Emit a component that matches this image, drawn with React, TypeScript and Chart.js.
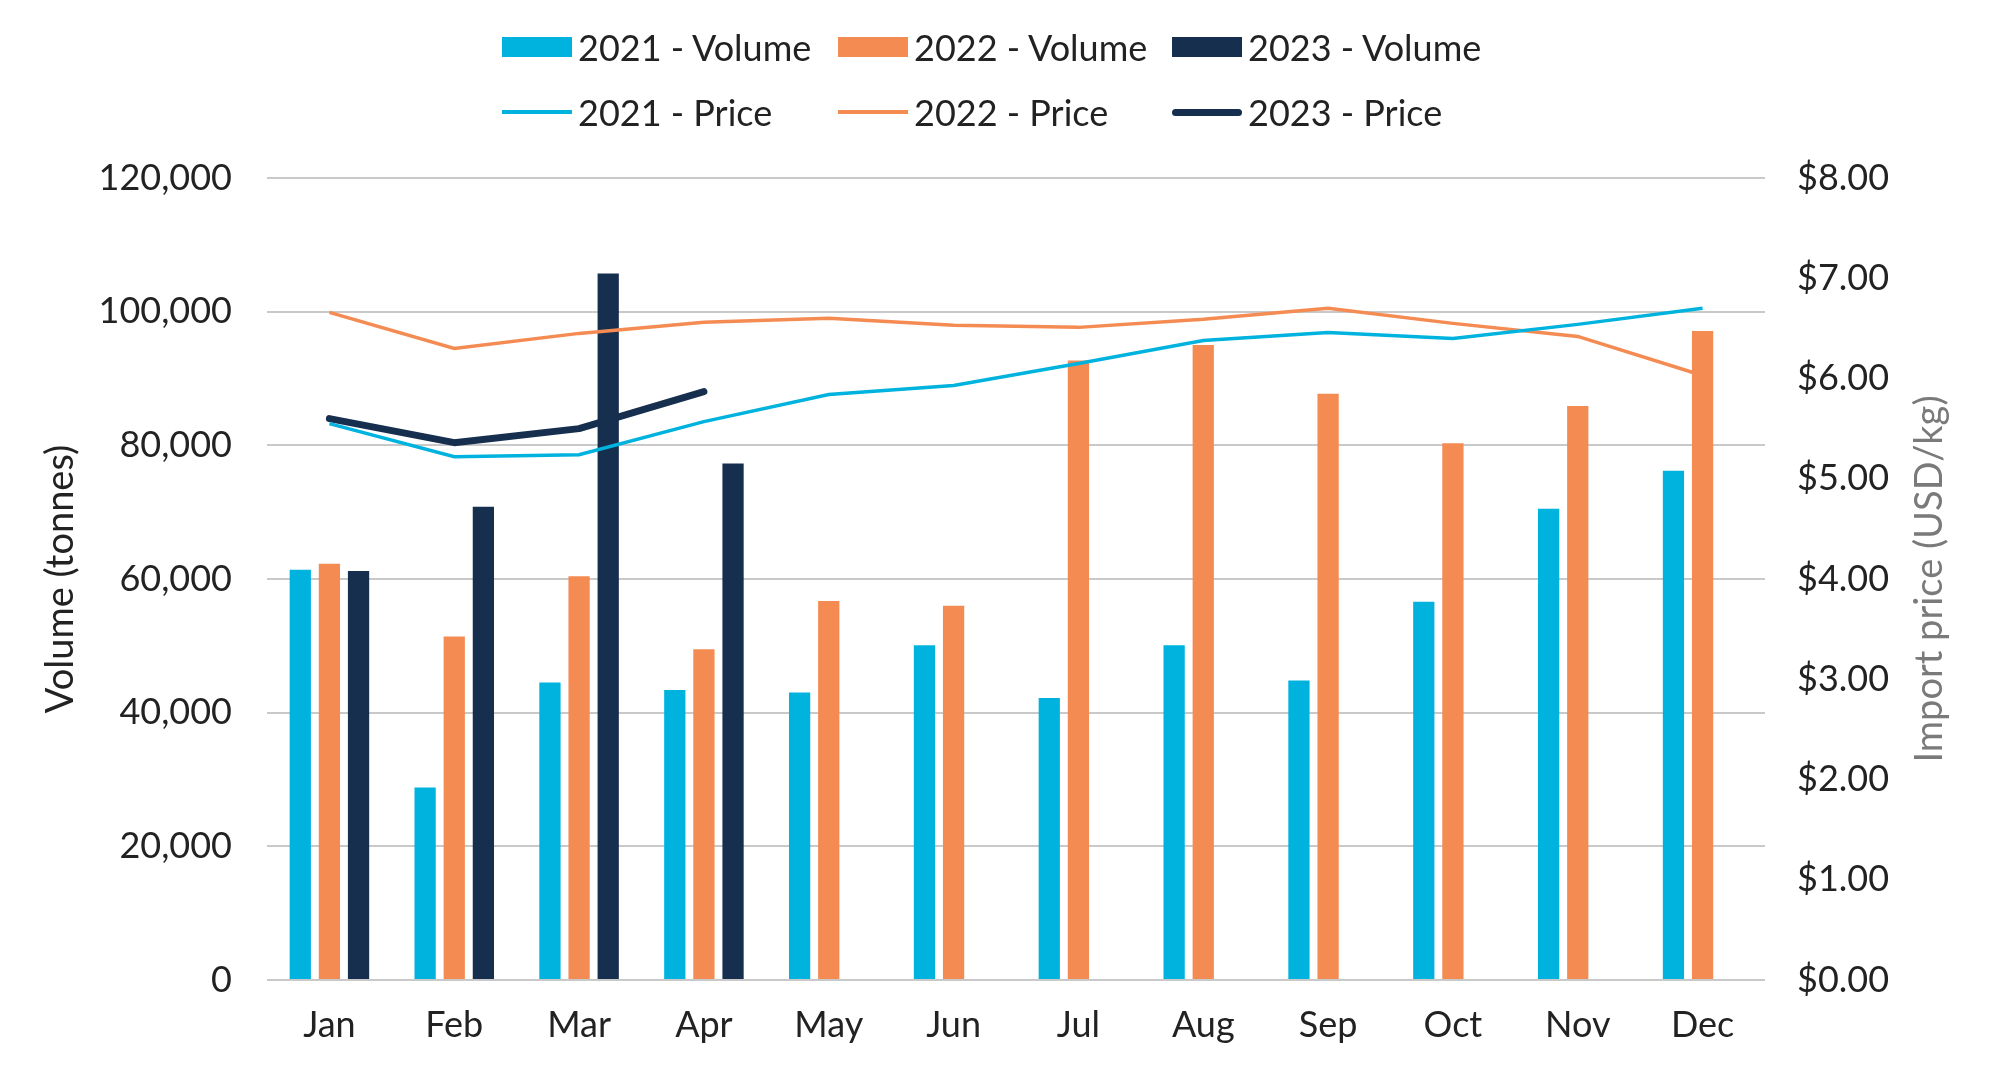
import React, { useEffect, useRef } from "react";
import { Chart, registerables } from "chart.js";

Chart.register(...registerables);

const months = ["Jan", "Feb", "Mar", "Apr", "May", "Jun", "Jul", "Aug", "Sep", "Oct", "Nov", "Dec"];
const volume2021 = [61400, 28800, 44500, 43400, 43000, 50100, 42200, 50100, 44800, 56600, 70500, 76200];
const volume2022 = [62300, 51400, 60400, 49500, 56700, 56000, 92700, 95000, 87700, 80300, 85900, 97100];
const volume2023 = [61200, 70800, 105700, 77300, null, null, null, null, null, null, null, null];
const price2021 = [5.55, 5.22, 5.24, 5.57, 5.84, 5.93, 6.15, 6.38, 6.46, 6.40, 6.54, 6.70];
const price2022 = [6.66, 6.30, 6.45, 6.56, 6.60, 6.53, 6.51, 6.59, 6.70, 6.55, 6.42, 6.03];
const price2023 = [5.60, 5.36, 5.50, 5.87, null, null, null, null, null, null, null, null];
const volumeTicks = [0, 20000, 40000, 60000, 80000, 100000, 120000];
const priceTicks = [0, 1, 2, 3, 4, 5, 6, 7, 8];

const CYAN = "#00b3df";
const ORANGE = "#f48b52";
const NAVY = "#172f4f";
const FONT = "Lato";

const legendItems = [
  { label: "2021 - Volume", color: CYAN, kind: "box" },
  { label: "2022 - Volume", color: ORANGE, kind: "box" },
  { label: "2023 - Volume", color: NAVY, kind: "box" },
  { label: "2021 - Price", color: CYAN, kind: "line", w: 4 },
  { label: "2022 - Price", color: ORANGE, kind: "line", w: 4 },
  { label: "2023 - Price", color: NAVY, kind: "line", w: 7 },
];

const rightTitlePlugin = {
  id: "rightTitle",
  afterDraw(chart: any) {
    const { ctx, chartArea } = chart;
    ctx.save();
    ctx.translate(1930, (chartArea.top + chartArea.bottom) / 2);
    ctx.rotate(-Math.PI / 2);
    ctx.font = `38px ${FONT}`;
    ctx.fillStyle = "#7a7a7a";
    ctx.textAlign = "center";
    ctx.textBaseline = "middle";
    ctx.fillText("Import price (USD/kg)", 0, 0);
    ctx.restore();
  },
};

export default function App() {
  const ref = useRef<HTMLCanvasElement>(null);

  useEffect(() => {
    document.body.style.margin = "0";
    document.body.style.overflow = "hidden";
    const canvas = ref.current;
    if (!canvas) return;
    const chart = new Chart(canvas, {
      type: "bar",
      data: {
        labels: months,
        datasets: [
          { type: "line", label: "2021 - Price", data: price2021, yAxisID: "y1", borderColor: CYAN, backgroundColor: CYAN, borderWidth: 3.5, pointRadius: 0, order: 0 },
          { type: "line", label: "2022 - Price", data: price2022, yAxisID: "y1", borderColor: ORANGE, backgroundColor: ORANGE, borderWidth: 3.5, pointRadius: 0, order: 0 },
          { type: "line", label: "2023 - Price", data: price2023, yAxisID: "y1", borderColor: NAVY, backgroundColor: NAVY, borderWidth: 7, pointRadius: 0, borderCapStyle: "round", borderJoinStyle: "round", order: 0 },
          { type: "bar", label: "2021 - Volume", data: volume2021, yAxisID: "y", backgroundColor: CYAN, order: 1, categoryPercentage: 0.7, barPercentage: 0.73 },
          { type: "bar", label: "2022 - Volume", data: volume2022, yAxisID: "y", backgroundColor: ORANGE, order: 1, categoryPercentage: 0.7, barPercentage: 0.73 },
          { type: "bar", label: "2023 - Volume", data: volume2023, yAxisID: "y", backgroundColor: NAVY, order: 1, categoryPercentage: 0.7, barPercentage: 0.73 },
        ] as any,
      },
      options: {
        animation: false,
        responsive: true,
        maintainAspectRatio: false,
        layout: { padding: { top: 178, left: 0, right: 0, bottom: 0 } },
        plugins: { legend: { display: false }, tooltip: { enabled: false } },
        scales: {
          x: {
            grid: { display: false, drawTicks: false },
            border: { display: false },
            ticks: { font: { family: FONT, size: 36 }, color: "#222", padding: 24 },
            afterFit: (s: any) => { s.height = 89; },
          },
          y: {
            position: "left",
            min: 0,
            max: 120000,
            afterBuildTicks: (s: any) => { s.ticks = volumeTicks.map((v) => ({ value: v })); },
            grid: { color: "#c9c9c9", lineWidth: 2, drawTicks: false },
            border: { display: false },
            ticks: {
              font: { family: FONT, size: 36 },
              color: "#222",
              padding: 35,
              callback: (v: any) => Number(v).toLocaleString("en-US"),
            },
            title: { display: true, text: "Volume (tonnes)", font: { family: FONT, size: 38 }, color: "#222", padding: { top: 38, bottom: 0 } },
            afterFit: (s: any) => { s.width = 267; },
          },
          y1: {
            position: "right",
            min: 0,
            max: 8,
            afterBuildTicks: (s: any) => { s.ticks = priceTicks.map((v) => ({ value: v })); },
            grid: { display: false, drawTicks: false },
            border: { display: false },
            ticks: {
              font: { family: FONT, size: 36 },
              color: "#222",
              padding: 32,
              callback: (v: any) => "$" + Number(v).toFixed(2),
            },
            afterFit: (s: any) => { s.width = 226; },
          },
        },
      },
      plugins: [rightTitlePlugin],
    });
    return () => chart.destroy();
  }, []);

  const colX = [502, 838, 1172];
  const rowY = [47, 112];

  return (
    <div style={{ position: "fixed", left: 0, top: 0, width: "100vw", height: "100vh", background: "#fff", fontFamily: FONT }}>
      <canvas ref={ref} />
      {legendItems.map((it, i) => {
        const col = i % 3;
        const row = Math.floor(i / 3);
        return (
          <div
            key={it.label}
            style={{
              position: "absolute",
              left: colX[col],
              top: rowY[row] - 22,
              height: 44,
              display: "flex",
              alignItems: "center",
              whiteSpace: "nowrap",
              fontSize: 36,
              color: "#222",
            }}
          >
            <span
              style={{
                display: "inline-block",
                width: 70,
                height: it.kind === "box" ? 20 : it.w,
                background: it.color,
                borderRadius: it.kind === "line" && it.w && it.w > 5 ? 4 : 0,
                marginRight: 6,
              }}
            />
            <span>{it.label}</span>
          </div>
        );
      })}
    </div>
  );
}
